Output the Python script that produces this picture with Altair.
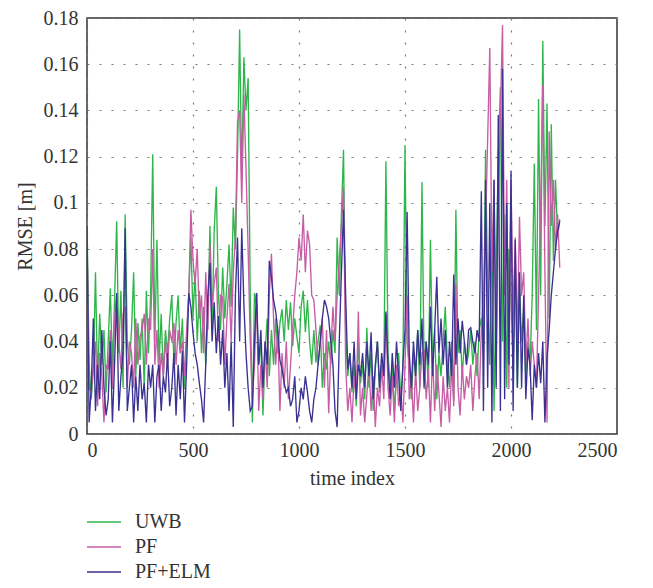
import altair as alt
import pandas as pd

TIME = list(range(0, 2240, 10))
SERIES = ["UWB", "PF", "PF+ELM"]
COLORS = ["#2fb64a", "#c65da5", "#3a3192"]

UWB = [
    0.093, 0.030, 0.015, 0.028, 0.070, 0.022, 0.052, 0.030, 0.045, 0.018,
    0.040, 0.063, 0.028, 0.058, 0.092, 0.035, 0.062, 0.020, 0.095, 0.040,
    0.030, 0.045, 0.070, 0.025, 0.048, 0.032, 0.050, 0.020, 0.062, 0.035,
    0.060, 0.121, 0.040, 0.084, 0.030, 0.052, 0.025, 0.045, 0.035, 0.050,
    0.060, 0.030, 0.048, 0.060, 0.035, 0.050, 0.020, 0.042, 0.060, 0.085,
    0.050, 0.070, 0.040, 0.062, 0.035, 0.055, 0.030, 0.050, 0.090, 0.045,
    0.088, 0.107, 0.060, 0.045, 0.072, 0.050, 0.065, 0.082, 0.055, 0.098,
    0.080, 0.120, 0.175, 0.110, 0.163, 0.140, 0.154, 0.060, 0.005, 0.061,
    0.056, 0.030, 0.040, 0.008, 0.035, 0.050, 0.025, 0.045, 0.030, 0.050,
    0.035, 0.048, 0.054, 0.040, 0.058, 0.045, 0.057, 0.038, 0.050, 0.042,
    0.035, 0.055, 0.062, 0.044, 0.058, 0.040, 0.030, 0.045, 0.031, 0.040,
    0.047, 0.020, 0.035, 0.028, 0.040, 0.030, 0.045, 0.035, 0.085, 0.060,
    0.095, 0.123, 0.045, 0.025, 0.035, 0.018, 0.030, 0.012, 0.040, 0.022,
    0.030, 0.015, 0.046, 0.020, 0.035, 0.010, 0.028, 0.040, 0.018, 0.030,
    0.025, 0.118, 0.035, 0.020, 0.030, 0.010, 0.025, 0.035, 0.015, 0.028,
    0.125, 0.040, 0.030, 0.015, 0.035, 0.025, 0.045, 0.020, 0.109, 0.030,
    0.040, 0.020, 0.084, 0.030, 0.045, 0.015, 0.035, 0.025, 0.040, 0.055,
    0.030, 0.020, 0.040, 0.015, 0.097, 0.035, 0.045, 0.025, 0.040, 0.030,
    0.035, 0.045, 0.030, 0.040, 0.025, 0.045, 0.050, 0.035, 0.123, 0.060,
    0.030, 0.090, 0.010, 0.070, 0.120, 0.150, 0.040, 0.095, 0.020, 0.080,
    0.060, 0.030, 0.075, 0.020, 0.065, 0.040, 0.055, 0.025, 0.040, 0.030,
    0.060, 0.117, 0.045, 0.145, 0.060, 0.170, 0.090, 0.143, 0.050, 0.134,
    0.075, 0.110, 0.085, 0.093,
]

PF = [
    0.085, 0.020, 0.018, 0.030, 0.040, 0.012, 0.035, 0.025, 0.005, 0.030,
    0.028, 0.045, 0.020, 0.050, 0.060, 0.040, 0.028, 0.052, 0.055, 0.020,
    0.040, 0.035, 0.020, 0.050, 0.030, 0.042, 0.045, 0.052, 0.030, 0.050,
    0.045, 0.080, 0.030, 0.045, 0.020, 0.035, 0.025, 0.040, 0.030, 0.045,
    0.040, 0.048, 0.030, 0.045, 0.035, 0.040, 0.025, 0.045, 0.060, 0.097,
    0.075, 0.065, 0.080, 0.050, 0.060, 0.035, 0.070, 0.045, 0.082, 0.055,
    0.065, 0.072, 0.040, 0.060, 0.059, 0.030, 0.050, 0.065, 0.040, 0.070,
    0.085, 0.135, 0.140, 0.100, 0.147, 0.115, 0.080, 0.040, 0.015, 0.030,
    0.061, 0.010, 0.030, 0.015, 0.040, 0.020, 0.060, 0.078, 0.050, 0.030,
    0.045, 0.010, 0.035, 0.020, 0.040, 0.015, 0.030, 0.045, 0.060, 0.070,
    0.085, 0.075, 0.095, 0.070, 0.088, 0.082, 0.060, 0.058, 0.045, 0.030,
    0.039, 0.050, 0.020, 0.045, 0.009, 0.035, 0.055, 0.040, 0.060, 0.075,
    0.090, 0.107, 0.030, 0.010, 0.020, 0.005, 0.025, 0.015, 0.053, 0.008,
    0.020, 0.005, 0.017, 0.030, 0.010, 0.025, 0.003, 0.020, 0.012, 0.030,
    0.015, 0.052, 0.020, 0.008, 0.025, 0.005, 0.030, 0.012, 0.020, 0.005,
    0.030, 0.060, 0.015, 0.025, 0.005, 0.028, 0.010, 0.020, 0.035, 0.036,
    0.015, 0.028, 0.005, 0.035, 0.010, 0.030, 0.018, 0.003, 0.025, 0.010,
    0.020, 0.005, 0.030, 0.012, 0.065, 0.020, 0.008, 0.030, 0.015, 0.025,
    0.020, 0.030, 0.010, 0.025, 0.035, 0.015, 0.045, 0.060, 0.090, 0.128,
    0.167, 0.070, 0.110, 0.030, 0.100, 0.140, 0.177, 0.060, 0.110, 0.020,
    0.110, 0.050, 0.085, 0.040, 0.094, 0.060, 0.070, 0.030, 0.050, 0.025,
    0.040, 0.030, 0.020, 0.060, 0.100, 0.151, 0.070, 0.005, 0.131, 0.090,
    0.110, 0.080, 0.095, 0.072,
]

PF_ELM = [
    0.090, 0.005, 0.020, 0.050, 0.010, 0.030, 0.015, 0.045, 0.020, 0.008,
    0.015, 0.040, 0.005, 0.030, 0.061, 0.010, 0.025, 0.035, 0.089, 0.010,
    0.020, 0.030, 0.005, 0.025, 0.010, 0.030, 0.015, 0.022, 0.005, 0.030,
    0.020, 0.030, 0.005, 0.025, 0.030, 0.010, 0.025, 0.018, 0.035, 0.012,
    0.020, 0.035, 0.008, 0.030, 0.015, 0.036, 0.005, 0.030, 0.061, 0.055,
    0.044, 0.035, 0.030, 0.022, 0.015, 0.005, 0.030, 0.060, 0.074, 0.040,
    0.057, 0.035, 0.051, 0.030, 0.045, 0.020, 0.035, 0.010, 0.040, 0.003,
    0.060, 0.085, 0.040, 0.089, 0.056, 0.035, 0.020, 0.010, 0.012, 0.040,
    0.061, 0.030, 0.045, 0.020, 0.040, 0.030, 0.075, 0.068, 0.058, 0.053,
    0.045, 0.032, 0.028, 0.022, 0.018, 0.020, 0.012, 0.015, 0.025, 0.005,
    0.010, 0.020, 0.015, 0.025, 0.018, 0.010, 0.005, 0.015, 0.020, 0.030,
    0.040, 0.050, 0.058, 0.055, 0.050, 0.040, 0.030, 0.010, 0.003, 0.040,
    0.070, 0.097, 0.060, 0.028, 0.035, 0.020, 0.040, 0.015, 0.030, 0.025,
    0.035, 0.020, 0.040, 0.025, 0.044, 0.015, 0.030, 0.040, 0.020, 0.035,
    0.025, 0.053, 0.030, 0.015, 0.035, 0.020, 0.040, 0.025, 0.010, 0.030,
    0.045, 0.096, 0.035, 0.020, 0.040, 0.025, 0.045, 0.030, 0.050, 0.020,
    0.040, 0.030, 0.055, 0.025, 0.045, 0.068, 0.035, 0.050, 0.030, 0.045,
    0.020, 0.040, 0.025, 0.069, 0.030, 0.050, 0.035, 0.049, 0.040, 0.030,
    0.045, 0.046, 0.040, 0.035, 0.045, 0.040, 0.105, 0.010, 0.110, 0.020,
    0.100, 0.005, 0.110, 0.020, 0.138, 0.010, 0.158, 0.015, 0.100, 0.030,
    0.114, 0.010, 0.084, 0.020, 0.070, 0.020, 0.060, 0.015, 0.037, 0.030,
    0.006, 0.030, 0.020, 0.035, 0.022, 0.040, 0.005, 0.033, 0.045, 0.060,
    0.070, 0.080, 0.088, 0.092,
]

assert len(UWB) == len(TIME), len(UWB)
assert len(PF) == len(TIME), len(PF)
assert len(PF_ELM) == len(TIME), len(PF_ELM)

X_TICKS = [0, 500, 1000, 1500, 2000, 2500]
Y_TICKS = [0, 0.02, 0.04, 0.06, 0.08, 0.1, 0.12, 0.14, 0.16, 0.18]

FONT = "Liberation Serif"

color_scale = alt.Scale(domain=SERIES, range=COLORS)

x_enc = alt.X(
    "t:Q",
    scale=alt.Scale(domain=[0, 2500], nice=False),
    axis=alt.Axis(values=X_TICKS, title="time index", format="d"),
)
y_enc = alt.Y(
    "v:Q",
    scale=alt.Scale(domain=[0, 0.18], nice=False),
    axis=alt.Axis(values=Y_TICKS, title="RMSE [m]", format=".2~f"),
)


def layer(name, values):
    df = pd.DataFrame({"t": TIME, "v": values, "series": name})
    return (
        alt.Chart(df)
        .mark_line(strokeWidth=1.35, clip=True)
        .encode(
            x=x_enc,
            y=y_enc,
            color=alt.Color("series:N", scale=color_scale, legend=None),
        )
    )


# legend drawn below the plot (rows 25 px apart)
LEGEND_TOP = 504
LEGEND_STEP = 25
legend_layers = []
for i, name in enumerate(SERIES):
    row_df = pd.DataFrame({"series": [name]})
    y_px = LEGEND_TOP + LEGEND_STEP * i
    legend_layers.append(
        alt.Chart(row_df)
        .mark_rule(strokeWidth=1.3)
        .encode(
            x=alt.value(0),
            x2=alt.value(34),
            y=alt.value(y_px),
            color=alt.Color("series:N", scale=color_scale, legend=None),
        )
    )
    legend_layers.append(
        alt.Chart(row_df)
        .mark_text(
            align="left",
            baseline="middle",
            font=FONT,
            fontSize=20,
            color="#333333",
        )
        .encode(x=alt.value(48), y=alt.value(y_px), text="series:N")
    )

chart = (
    alt.layer(layer("UWB", UWB), layer("PF", PF), layer("PF+ELM", PF_ELM), *legend_layers)
    .properties(
        width=530,
        height=416,
        padding={"left": 79, "top": 10, "right": 28, "bottom": 150},
        autosize=alt.AutoSizeParams(type="none"),
    )
    .configure_view(stroke="#333333", strokeWidth=1.5)
    .configure_axis(
        labelFont=FONT,
        labelFontSize=20,
        labelColor="#333333",
        titleFont=FONT,
        titleFontSize=20,
        titleFontWeight="normal",
        titleColor="#333333",
        domain=False,
        ticks=False,
        grid=True,
        gridColor="#777777",
        gridDash=[2, 10],
        gridWidth=1.2,
    )
    .configure_axisX(labelPadding=6, titlePadding=8)
    .configure_axisY(labelPadding=9, titlePadding=8)
)

chart.save("out.html", embed_options={"renderer": "svg", "actions": False})
